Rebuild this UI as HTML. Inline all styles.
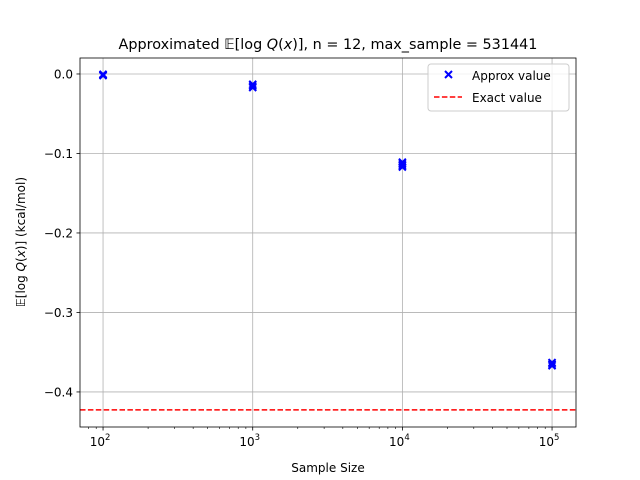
<!DOCTYPE html>
<html><head><meta charset="utf-8"><style>body{margin:0;background:#fff}svg{display:block;font-family:"DejaVu Sans","Liberation Sans",sans-serif}</style></head>
<body>
<svg id="chart" width="640" height="480" xmlns="http://www.w3.org/2000/svg">
<rect width="640" height="480" fill="#fff"/>
<g id="grid"></g>
<g id="marks"></g>
<g id="axes"></g>
<text x="328" y="49" text-anchor="middle" font-size="14.4">Approximated 𝔼[log <tspan font-style="italic">Q</tspan>(<tspan font-style="italic">x</tspan>)], n = 12, max_sample = 531441</text>
<text x="328" y="472" text-anchor="middle" font-size="12">Sample Size</text>
<text transform="translate(25,242) rotate(-90)" text-anchor="middle" font-size="12">𝔼[log <tspan font-style="italic">Q</tspan>(<tspan font-style="italic">x</tspan>)] (kcal/mol)</text>
<g>
<rect x="428" y="64" width="141" height="47" rx="3" fill="#fff" fill-opacity="0.8" stroke="#ccc"/>
<g>
<path d="M445,71 l7,7 M452,71 l-7,7" stroke="blue" stroke-width="2"/>
<text x="472" y="80" font-size="12">Approx value</text></g>
<g>
<line x1="434" y1="97" x2="462" y2="97" stroke="red" stroke-width="1.5" stroke-dasharray="5.5,2.4"/>
<text x="472" y="102" font-size="12">Exact value</text></g>
</g>
</svg>
<script>
const sampleSizes=[100,100,100,1000,1000,1000,10000,10000,10000,10000,100000,100000,100000];
const approxValues=[-0.0005,-0.001,-0.002,-0.013,-0.015,-0.017,-0.111,-0.113,-0.115,-0.117,-0.363,-0.365,-0.367];
const exactValue=[-0.4225];
const yTicks=[0,-0.1,-0.2,-0.3,-0.4];
const yTickLabels=["0.0","−0.1","−0.2","−0.3","−0.4"];
const xTicks=[2,3,4,5];
const L=80,R=576,T=58,B=427;
const xMin=1.846,xMax=5.16,yMin=-0.4441,yMax=0.0201;
const sx=v=>L+(Math.log10(v)-xMin)/(xMax-xMin)*(R-L);
const sxe=e=>L+(e-xMin)/(xMax-xMin)*(R-L);
const sy=v=>B-(v-yMin)/(yMax-yMin)*(B-T);
const NS="http://www.w3.org/2000/svg";
function mk(p,tag,a){const e=document.createElementNS(NS,tag);for(const k in a)e.setAttribute(k,a[k]);p.appendChild(e);return e;}
const grid=document.getElementById('grid'),axes=document.getElementById('axes'),marks=document.getElementById('marks');
xTicks.forEach(e=>{const x=sxe(e);
const g=mk(grid,'line',{x1:x,x2:x,y1:T,y2:B,stroke:'#b0b0b0','stroke-width':0.8});


mk(axes,'line',{x1:x,x2:x,y1:B,y2:B+3.5,stroke:'#000','stroke-width':0.8});
const t=mk(axes,'text',{x:x-3,y:B+19,'text-anchor':'middle','font-size':12});


t.textContent='10';const s=mk(t,'tspan',{dy:-6,'font-size':8.5});s.textContent=String(e);});
for(let d=1;d<=5;d++)for(let m=2;m<=9;m++){const e=d+Math.log10(m);if(e<xMin||e>xMax)continue;const x=sxe(e);
mk(axes,'line',{x1:x,x2:x,y1:B,y2:B+2,stroke:'#000','stroke-width':0.6});}
yTicks.forEach((v,i)=>{const y=sy(v);
const g=mk(grid,'line',{x1:L,x2:R,y1:y,y2:y,stroke:'#b0b0b0','stroke-width':0.8});


mk(axes,'line',{x1:L-3.5,x2:L,y1:y,y2:y,stroke:'#000','stroke-width':0.8});
const t=mk(axes,'text',{x:L-7,y:y+4.5,'text-anchor':'end','font-size':12});


t.textContent=yTickLabels[i];});
const ey=sy(exactValue[0]);
const el=mk(marks,'line',{x1:L,x2:R,y1:ey,y2:ey,stroke:'red','stroke-width':1.5,'stroke-dasharray':'5.5,2.4'});


sampleSizes.forEach((s,i)=>{const x=sx(s),y=sy(approxValues[i]);
const p=mk(marks,'path',{d:`M${x-3.5},${y-3.5} l7,7 M${x+3.5},${y-3.5} l-7,7`,stroke:'blue','stroke-width':2});

});
const fr=mk(axes,'rect',{x:L,y:T,width:R-L,height:B-T,fill:'none',stroke:'#000','stroke-width':0.8});


</script>
</body></html>
